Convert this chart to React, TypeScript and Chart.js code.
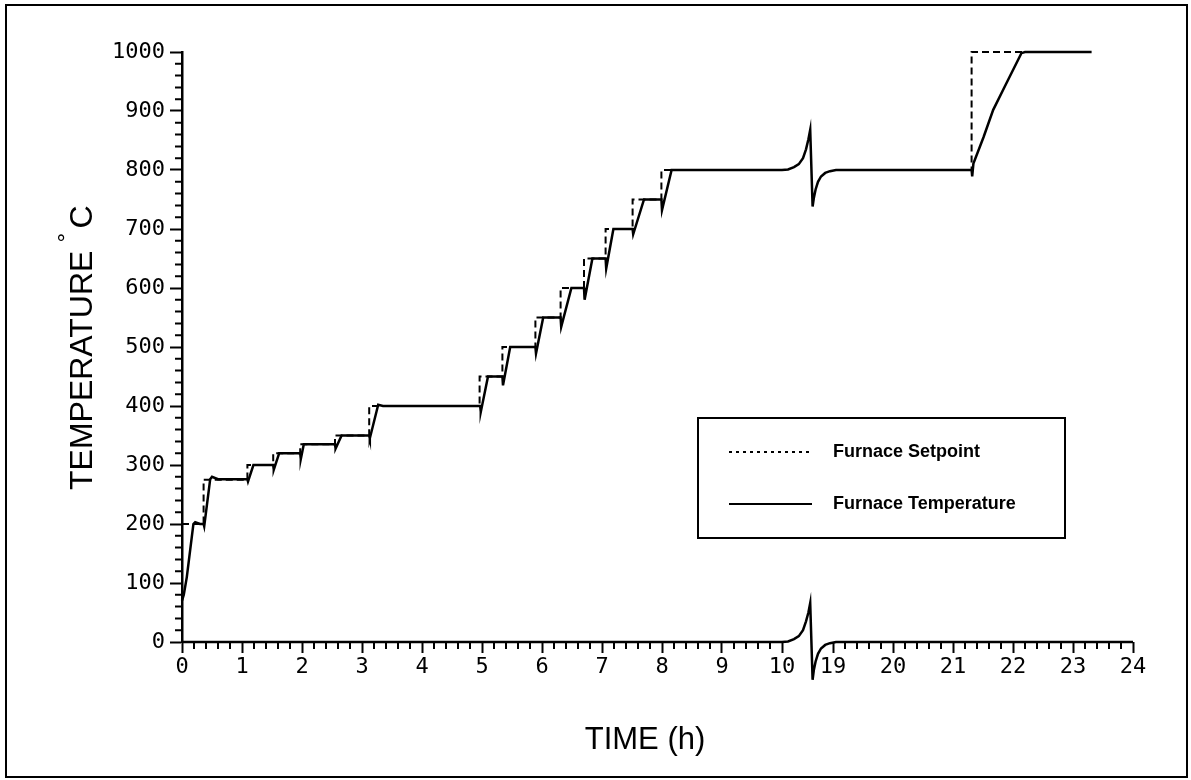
import React, { useEffect, useRef } from "react";
import { Chart, registerables } from "chart.js";

Chart.register(...registerables);

// ---- axis break (hours 10.5 .. 18.65 are cut out of the time axis) ----
const BREAK_START = 10.5;
const BREAK_END = 18.65;
const axisPos = (t: number) => (t <= BREAK_START ? t : t - (BREAK_END - BREAK_START));

// ---- tick labels ----
const timeTicks = [0, 1, 2, 3, 4, 5, 6, 7, 8, 9, 10, 19, 20, 21, 22, 23, 24];
const tempTicks = [0, 100, 200, 300, 400, 500, 600, 700, 800, 900, 1000];

// ---- Furnace Temperature (solid) ----
const tempTime = [
  0, 0.03, 0.08, 0.19, 0.22, 0.3, 0.36, 0.37, 0.47, 0.5, 0.6, 1.09, 1.1, 1.19, 1.52, 1.53, 1.62,
  1.97, 1.98, 2.03, 2.55, 2.56, 2.66, 3.12, 3.13, 3.27, 3.35, 4.97, 4.98, 5.1, 5.34, 5.35,
  5.47, 5.89, 5.9, 6.02, 6.31, 6.32, 6.49, 6.7, 6.71, 6.84, 7.06, 7.07, 7.19, 7.51, 7.52,
  7.7, 7.99, 8.0, 8.16, 10.0, 10.1, 10.2, 10.28, 10.35, 10.4, 10.44, 10.47,
  18.66, 18.68, 18.71, 18.75, 18.8, 18.87, 18.95, 19.05,
  21.31, 21.32, 21.34, 21.51, 21.67, 21.89, 22.14, 22.2, 23.31,
];
const tempValue = [
  70, 80, 110, 200, 203, 200, 200, 196, 276, 280, 276, 276, 272, 300, 300, 292, 320,
  320, 310, 335, 335, 328, 350, 350, 345, 402, 400, 400, 390, 450, 450, 435,
  500, 500, 489, 550, 550, 534, 600, 600, 580, 650, 650, 633, 700, 700, 691,
  750, 750, 732, 800, 800, 801, 805, 810, 820, 835, 852, 868,
  738, 752, 767, 780, 789, 795, 798, 800,
  800, 789, 811, 856, 902, 947, 998, 1000, 1000,
];

// ---- Furnace Setpoint (dashed) ----
const setpointTime = [
  0, 0.36, 0.36, 1.09, 1.09, 1.52, 1.52, 1.97, 1.97, 2.55, 2.55, 3.12, 3.12, 4.96, 4.96,
  5.34, 5.34, 5.89, 5.89, 6.31, 6.31, 6.7, 6.7, 7.06, 7.06, 7.51, 7.51, 7.99, 7.99, 10.0,
  10.5, 19.05, 21.31, 21.31, 23.31,
];
const setpointValue: (number | null)[] = [
  200, 200, 275, 275, 300, 300, 320, 320, 335, 335, 350, 350, 400, 400, 450,
  450, 500, 500, 550, 550, 600, 600, 650, 650, 700, 700, 750, 750, 800, 800,
  null, 800, 800, 1000, 1000,
];

// ---- deviation trace along the time axis ----
const deviationTime = [
  0, 10.0, 10.1, 10.2, 10.28, 10.35, 10.4, 10.44, 10.47,
  18.66, 18.68, 18.71, 18.75, 18.8, 18.87, 18.95, 19.05, 24,
];
const deviationValue = [0, 0, 1, 5, 10, 20, 35, 50, 66, -64, -48, -33, -20, -11, -5, -2, 0, 0];

const toPoints = (ts: number[], vs: (number | null)[]) =>
  ts.map((t, i) => ({ x: axisPos(t), y: vs[i] }));

const framePlugin = {
  id: "frame",
  beforeDraw(chart: any) {
    const ctx = chart.ctx;
    ctx.save();
    ctx.fillStyle = "#fff";
    ctx.fillRect(0, 0, chart.width, chart.height);
    ctx.strokeStyle = "#000";
    ctx.lineWidth = 2;
    ctx.strokeRect(6, 5, 1181, 772);
    ctx.restore();
  },
};

const minorTickPlugin = {
  id: "minorTicks",
  afterDraw(chart: any) {
    const ctx = chart.ctx;
    const xs = chart.scales.x;
    const ys = chart.scales.y;
    const area = chart.chartArea;
    ctx.save();
    ctx.strokeStyle = "#000";
    ctx.lineWidth = 2;
    ctx.beginPath();
    for (let v = 0; v <= 1000; v += 20) {
      if (v % 100 === 0) continue;
      const py = ys.getPixelForValue(v);
      ctx.moveTo(area.left - 7, py);
      ctx.lineTo(area.left, py);
    }
    const ranges = [
      [0, 10],
      [19, 24],
    ];
    for (const [a, b] of ranges) {
      for (let k = Math.round(a * 5); k <= Math.round(b * 5); k++) {
        if (k % 5 === 0) continue;
        const px = xs.getPixelForValue(axisPos(k / 5));
        ctx.moveTo(px, area.bottom);
        ctx.lineTo(px, area.bottom + 7);
      }
    }
    ctx.stroke();
    ctx.restore();
  },
};

const titlePlugin = {
  id: "titles",
  afterDraw(chart: any) {
    const ctx = chart.ctx;
    ctx.save();
    ctx.fillStyle = "#000";
    ctx.font = "31px 'Liberation Sans', Arial, sans-serif";
    ctx.textAlign = "center";
    ctx.textBaseline = "middle";
    ctx.fillText("TIME (h)", 645, 740);

    ctx.translate(83, 490);
    ctx.rotate(-Math.PI / 2);
    ctx.textAlign = "left";
    ctx.textBaseline = "middle";
    ctx.font = "32px 'Liberation Sans', Arial, sans-serif";
    const main = "TEMPERATURE";
    ctx.fillText(main, 0, 0);
    const w = ctx.measureText(main).width;
    ctx.font = "24px 'Liberation Sans', Arial, sans-serif";
    ctx.fillText("°", w + 8, -16);
    ctx.font = "32px 'Liberation Sans', Arial, sans-serif";
    ctx.fillText("C", w + 22, 0);
    ctx.restore();
  },
};

const legendPlugin = {
  id: "boxLegend",
  afterDraw(chart: any) {
    const ctx = chart.ctx;
    ctx.save();
    ctx.strokeStyle = "#000";
    ctx.lineWidth = 2;
    ctx.fillStyle = "#fff";
    ctx.fillRect(698, 418, 367, 120);
    ctx.strokeRect(698, 418, 367, 120);

    ctx.lineWidth = 2;
    ctx.setLineDash([3, 4]);
    ctx.beginPath();
    ctx.moveTo(729, 452);
    ctx.lineTo(812, 452);
    ctx.stroke();
    ctx.setLineDash([]);
    ctx.beginPath();
    ctx.moveTo(729, 504);
    ctx.lineTo(812, 504);
    ctx.stroke();

    ctx.fillStyle = "#000";
    ctx.font = "bold 18px 'Liberation Sans', Arial, sans-serif";
    ctx.textAlign = "left";
    ctx.textBaseline = "middle";
    ctx.fillText("Furnace Setpoint", 833, 452);
    ctx.fillText("Furnace Temperature", 833, 504);
    ctx.restore();
  },
};

export default function App() {
  const ref = useRef<HTMLCanvasElement>(null);

  useEffect(() => {
    if (!ref.current) return;
    const tickFont = { family: "'DejaVu Sans Mono', monospace", size: 22 };
    const chart = new Chart(ref.current, {
      type: "line",
      data: {
        datasets: [
          {
            label: "Furnace Temperature",
            data: toPoints(tempTime, tempValue),
            borderColor: "#000",
            borderWidth: 2.5,
            pointRadius: 0,
            tension: 0,
            clip: false as any,
            order: 0,
          },
          {
            label: "Furnace Setpoint",
            data: toPoints(setpointTime, setpointValue),
            borderColor: "#000",
            borderWidth: 2,
            borderDash: [7, 4],
            pointRadius: 0,
            tension: 0,
            spanGaps: false,
            clip: false as any,
            order: 1,
          },
          {
            label: "Deviation",
            data: toPoints(deviationTime, deviationValue),
            borderColor: "#000",
            borderWidth: 2.5,
            pointRadius: 0,
            tension: 0,
            clip: false as any,
            order: 2,
          },
        ],
      },
      options: {
        responsive: false,
        animation: false,
        devicePixelRatio: 1,
        layout: { padding: { left: 0, top: 52, right: 58, bottom: 0 } },
        plugins: {
          legend: { display: false },
          tooltip: { enabled: false },
        },
        scales: {
          x: {
            type: "linear",
            min: 0,
            max: axisPos(24),
            border: { display: false },
            grid: {
              drawOnChartArea: false,
              drawTicks: true,
              tickLength: 11,
              tickWidth: 2,
              tickColor: "#000",
            },
            ticks: {
              autoSkip: false,
              maxRotation: 0,
              color: "#000",
              font: tickFont,
              padding: 1,
              callback: (_v: any, i: number) => String(timeTicks[i]),
            },
            afterBuildTicks: (scale: any) => {
              scale.ticks = timeTicks.map((t) => ({ value: axisPos(t) }));
            },
            afterFit: (scale: any) => {
              scale.height = 780 - 642;
            },
          },
          y: {
            type: "linear",
            min: 0,
            max: 1000,
            border: { display: true, color: "#000", width: 2.5 },
            grid: {
              drawOnChartArea: false,
              drawTicks: true,
              tickLength: 12,
              tickWidth: 2,
              tickColor: "#000",
            },
            ticks: {
              autoSkip: false,
              color: "#000",
              font: tickFont,
              padding: 5,
              callback: (v: any) => String(v),
            },
            afterBuildTicks: (scale: any) => {
              scale.ticks = tempTicks.map((v) => ({ value: v }));
            },
            afterFit: (scale: any) => {
              scale.width = 182;
            },
          },
        },
      },
      plugins: [framePlugin, minorTickPlugin, titlePlugin, legendPlugin],
    });
    return () => chart.destroy();
  }, []);

  return (
    <div style={{ position: "absolute", left: 0, top: 0, width: 1191, height: 780, background: "#fff" }}>
      <canvas ref={ref} width={1191} height={780} style={{ display: "block" }} />
    </div>
  );
}
